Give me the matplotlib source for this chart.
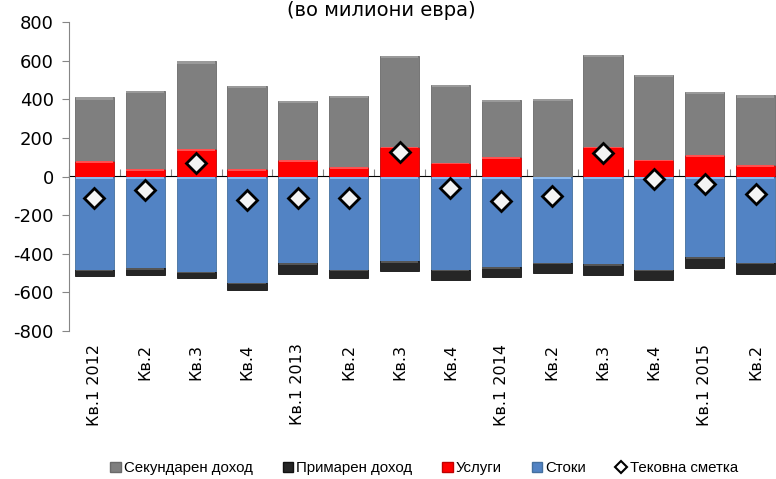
import numpy as np
import matplotlib
matplotlib.use("Agg")
import matplotlib.pyplot as plt
from matplotlib.lines import Line2D
from matplotlib.patches import Patch

# --------------------------------------------------
# Balance of payments components, quarterly (EUR million)
# --------------------------------------------------

quarters = ["Кв.1 2012", "Кв.2", "Кв.3", "Кв.4",
            "Кв.1 2013", "Кв.2", "Кв.3", "Кв.4",
            "Кв.1 2014", "Кв.2", "Кв.3", "Кв.4",
            "Кв.1 2015", "Кв.2"]

goods = [-482, -474, -493, -551, -450, -482, -438, -482, -470, -446, -453, -482, -417, -446]
primary_income = [-35, -36, -33, -38, -53, -45, -49, -52, -52, -55, -57, -54, -55, -59]
services = [78, 38, 142, 38, 83, 47, 153, 71, 100, 0, 153, 88, 111, 59]
secondary_income = [332, 407, 455, 431, 310, 370, 471, 405, 297, 403, 478, 439, 327, 362]
current_account = [-112, -69, 69, -120, -112, -110, 129, -60, -129, -100, 121, -14, -38, -89]

labels = ["Секундарен доход", "Примарен доход", "Услуги", "Стоки", "Тековна сметка"]

# --------------------------------------------------
# Figure
# --------------------------------------------------

fig = plt.figure(figsize=(7.76, 4.79), dpi=100)
ax = fig.add_axes([69 / 776, 1 - 331 / 479, 712 / 776, 309 / 479])

x = np.arange(len(quarters))
w = 0.77

c_gray = "#7f7f7f"
c_black = "#262626"
c_red = "#ff0000"
c_blue = "#5283c4"

goods = np.array(goods)
primary_income = np.array(primary_income)
services = np.array(services)
secondary_income = np.array(secondary_income)

# positive side: services, then secondary income on top
ax.bar(x, services, w, color=c_red, edgecolor="#c00000", linewidth=0.6, zorder=2)
ax.bar(x, secondary_income, w, bottom=services, color=c_gray,
       edgecolor="#6a6a6a", linewidth=0.6, zorder=2)
# negative side: goods, then primary income below
ax.bar(x, goods, w, color=c_blue, edgecolor="#44709f", linewidth=0.6, zorder=2)
ax.bar(x, primary_income, w, bottom=goods, color=c_black,
       edgecolor="#111111", linewidth=0.6, zorder=2)

# light bevel strip along the top edge of each segment
ax.bar(x, -np.minimum(8, services), w * 0.96, bottom=services, color="#ff5050",
       linewidth=0, zorder=2.1)
ax.bar(x, -12, w * 0.96, bottom=services + secondary_income, color="#9a9a9a",
       linewidth=0, zorder=2.1)
ax.bar(x, -12, w * 0.96, bottom=0, color="#8ab8ee", linewidth=0, zorder=2.1)
ax.bar(x, -8, w * 0.96, bottom=goods, color="#555555", linewidth=0, zorder=2.1)

ax.plot(x, current_account, linestyle="none", marker="D", markersize=10.5,
        markerfacecolor="#f4f4f4", markeredgecolor="black", markeredgewidth=2,
        zorder=4)

ax.set_xlim(-0.5, len(quarters) - 0.5)
ax.set_ylim(-800, 800)
ax.set_yticks(np.arange(-800, 801, 200))

for s in ["top", "right", "bottom"]:
    ax.spines[s].set_visible(False)
ax.spines["left"].set_color("#868686")
ax.tick_params(axis="y", direction="out", length=5, color="#868686",
               labelsize=13, pad=6)
ax.set_yticklabels([str(v) for v in range(-800, 801, 200)], family="DejaVu Sans")

ax.set_xticks(x)
ax.set_xticklabels(quarters, rotation=90, fontsize=11.5, family="DejaVu Sans")
ax.tick_params(axis="x", length=0, pad=9)

# zero line with category separators
zero_ax = ax.secondary_xaxis(0.5)
zero_ax.set_xticks(np.arange(len(quarters) + 1) - 0.5)
zero_ax.set_xticklabels([])
zero_ax.spines["bottom"].set_color("#868686")
zero_ax.spines["bottom"].set_linewidth(1.2)
zero_ax.tick_params(axis="x", direction="out", length=5, color="#868686")

fig.text(381 / 776, 1 - 1 / 479, "(во милиони евра)", ha="center", va="top",
         fontsize=14, family="DejaVu Sans")

handles = [
    Patch(facecolor=c_gray, edgecolor="#6a6a6a"),
    Patch(facecolor=c_black, edgecolor="#111111"),
    Patch(facecolor=c_red, edgecolor="#c00000"),
    Patch(facecolor=c_blue, edgecolor="#44709f"),
    Line2D([], [], linestyle="none", marker="D", markersize=6,
           markerfacecolor="white", markeredgecolor="black", markeredgewidth=1.5),
]
fig.legend(handles, labels, loc="center", bbox_to_anchor=(424 / 776, 1 - 468 / 479),
           ncol=5, frameon=False, handlelength=0.7, handleheight=0.7,
           handletextpad=0.2, columnspacing=2.0,
           prop={"family": "Liberation Sans", "size": 10.8})

fig.savefig("out.png", dpi=100)
